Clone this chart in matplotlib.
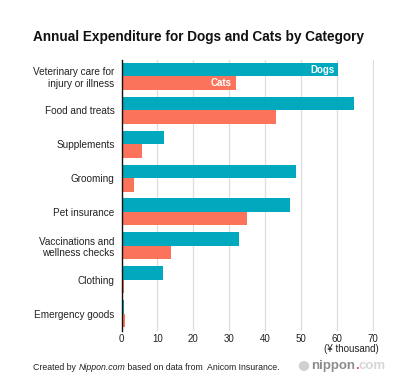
import matplotlib.pyplot as plt
import numpy as np

plt.rcParams['font.family'] = ['Liberation Sans', 'DejaVu Sans']

categories = ['Veterinary care for\ninjury or illness', 'Food and treats', 'Supplements',
              'Grooming', 'Pet insurance', 'Vaccinations and\nwellness checks',
              'Clothing', 'Emergency goods']
dogs = [60.4, 64.8, 11.8, 48.7, 46.9, 32.6, 11.6, 0.7]
cats = [31.8, 42.9, 5.7, 3.6, 34.9, 13.9, 0.6, 0.9]
xticks = [0, 10, 20, 30, 40, 50, 60, 70]

dog_col = '#00a9be'
cat_col = '#fa735a'

W, H = 409, 388
fig = plt.figure(figsize=(W / 100, H / 100), dpi=100)
ax = fig.add_axes([121.5 / W, 1 - 330.5 / H, (374 - 121.5) / W, 271 / H])

y = np.arange(len(categories))
h = 0.4
ax.barh(y - h / 2, dogs, height=h, color=dog_col, zorder=2)
ax.barh(y + h / 2, cats, height=h, color=cat_col, zorder=2)

ax.text(dogs[0] - 1.2, -h / 2, 'Dogs', color='white', fontsize=7, fontweight='bold',
        ha='right', va='center', zorder=3)
ax.text(cats[0] - 1.2, h / 2, 'Cats', color='white', fontsize=7, fontweight='bold',
        ha='right', va='center', zorder=3)

ax.set_xlim(0, 70.3)
ax.set_ylim(len(categories) - 0.5, -0.5)
ax.set_xticks(xticks)
ax.set_yticks(y)
ax.set_yticklabels(categories, linespacing=1.15)
ax.tick_params(axis='both', length=0, colors='#222222')
ax.tick_params(axis='y', pad=5, labelsize=7.2)
ax.tick_params(axis='x', pad=2.5, labelsize=7)
ax.grid(axis='x', color='#dddddd', linewidth=0.9, zorder=0)
for s in ['top', 'right', 'bottom']:
    ax.spines[s].set_visible(False)
ax.spines['left'].set_color('#111111')
ax.spines['left'].set_linewidth(1)
ax.spines['left'].set_zorder(4)

fig.text(379 / W, 1 - 349 / H, '(¥ thousand)', fontsize=7, ha='right', va='center',
         color='#222222')

fig.text(33 / W, 1 - 37 / H, 'Annual Expenditure for Dogs and Cats by Category',
         fontsize=9.8, fontweight='bold', ha='left', va='center', color='#111111')

# footer, pieces placed one after another
renderer = fig.canvas.get_renderer()
x0 = 33 / W
for txt, st in [('Created by ', 'normal'), ('Nippon.com', 'italic'),
                (' based on data from  Anicom Insurance.', 'normal')]:
    t = fig.text(x0, 1 - 368 / H, txt, fontsize=6.3, style=st, ha='left', va='center',
                 color='#222222')
    bb = t.get_window_extent(renderer)
    x0 += bb.width / W

# logo
x0 = 311 / W
for txt, c in [('nippon', '#8c8c8c'), ('.', '#e8507a'), ('com', '#d6d6d6')]:
    t = fig.text(x0, 1 - 366 / H, txt, fontsize=9.5, ha='left', va='center', color=c,
                 fontweight='bold')
    bb = t.get_window_extent(renderer)
    x0 += bb.width / W
fig.patches.append(plt.Circle((304 / W, 1 - 366 / H), 0.011, transform=fig.transFigure,
                              color='#d0d0d0'))

fig.savefig('out.png', dpi=100)
